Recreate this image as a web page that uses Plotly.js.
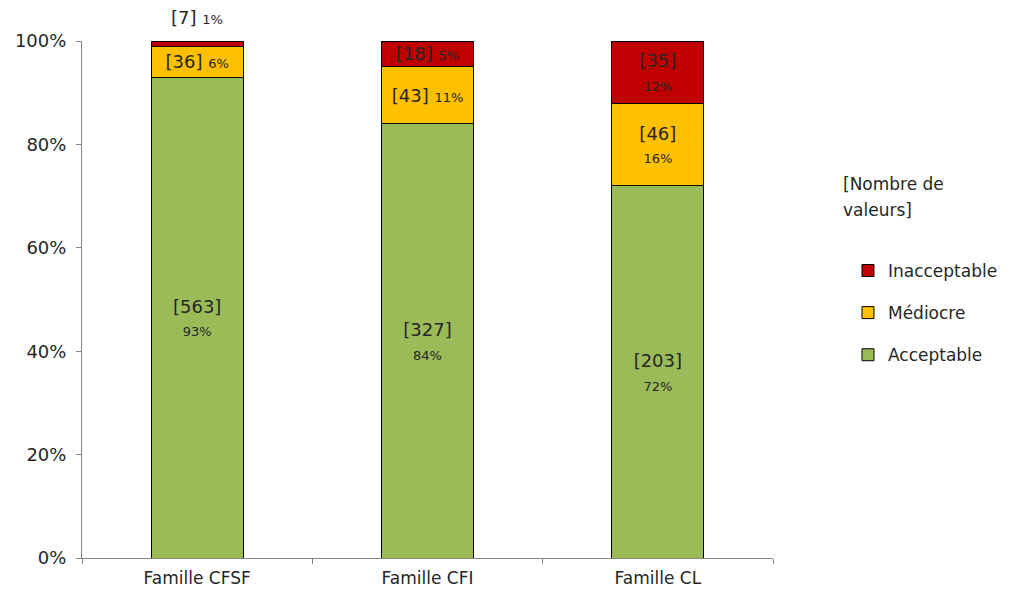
<!DOCTYPE html>
<html>
<head>
<meta charset="utf-8">
<script src="https://cdn.plot.ly/plotly-3.0.1.min.js"></script>
<style>html,body{margin:0;padding:0;background:#fff;}#chart{width:1016px;height:595px;}</style>
</head>
<body>
<div id="chart"></div>
<script>
const categories = ['Famille CFSF', 'Famille CFI', 'Famille CL'];
// number of values (shown in brackets)
const acceptableCount = [563, 327, 203];
const mediocreCount = [36, 43, 46];
const inacceptableCount = [7, 18, 35];
// share of values, % (bar heights)
const acceptablePct = [93, 84, 72];
const mediocrePct = [6, 11, 16];
const inacceptablePct = [1, 5, 12];
const seriesNames = ['Acceptable', 'Médiocre', 'Inacceptable'];
const tickValues = [0, 20, 40, 60, 80, 100];
const tickLabels = ['0%', '20%', '40%', '60%', '80%', '100%'];
const legendTitle = ['[Nombre de', 'valeurs]'];

const FONT = 'DejaVu Sans, Liberation Sans, Arial, sans-serif';
const colors = ['#9BBB59', '#FFC000', '#C00000'];
// label layout per bar: true = count and % on two lines
const twoLines = [[true, true, true], [false, false, true], [false, false, true]];

const counts = [acceptableCount, mediocreCount, inacceptableCount];
const pcts = [acceptablePct, mediocrePct, inacceptablePct];

function label(k, i, sepOverride) {
  const sep = sepOverride || (twoLines[k][i] ? '<br>' : ' ');
  return '[' + counts[k][i] + ']' + sep + '<span style="font-size:13px">' + pcts[k][i] + '%</span>';
}

const annotations = [];
const traces = pcts.map((vals, k) => {
  const textpos = vals.map((v, i) => {
    if (k === 2 && v < 2) {
      // too thin: label placed above the stack
      annotations.push({
        xref: 'x', yref: 'y', x: categories[i],
        y: acceptablePct[i] + mediocrePct[i] + inacceptablePct[i],
        yanchor: 'bottom', yshift: 11, showarrow: false,
        text: label(k, i, ' '),
        font: {family: FONT, size: 18, color: '#262626'}
      });
      return 'none';
    }
    return 'inside';
  });
  return {
    type: 'bar',
    name: seriesNames[k],
    x: categories,
    y: vals,
    text: vals.map((v, i) => label(k, i)),
    texttemplate: '%{text}',
    textposition: textpos,
    insidetextanchor: 'middle',
    constraintext: 'none',
    cliponaxis: false,
    textfont: {family: FONT, size: 18, color: '#262626'},
    marker: {color: colors[k], line: {color: '#000000', width: 1}},
    legendgroup: 'g' + k,
    legendrank: 3 - k,
    hoverinfo: 'skip'
  };
});

annotations.push({
  xref: 'paper', yref: 'paper', x: 1.099, y: (558 - 184) / 517, xanchor: 'left', yanchor: 'middle',
  text: legendTitle[0], showarrow: false, align: 'left',
  font: {family: FONT, size: 17, color: '#262626'}
});
annotations.push({
  xref: 'paper', yref: 'paper', x: 1.099, y: (558 - 210) / 517, xanchor: 'left', yanchor: 'middle',
  text: legendTitle[1], showarrow: false, align: 'left',
  font: {family: FONT, size: 17, color: '#262626'}
});

const layout = {
  width: 1016, height: 595,
  margin: {l: 82, r: 243, t: 41, b: 37},
  paper_bgcolor: '#ffffff', plot_bgcolor: '#ffffff',
  barmode: 'stack',
  bargap: 0.6,
  showlegend: true,
  font: {family: FONT, size: 17, color: '#262626'},
  xaxis: {
    type: 'category',
    showline: true, linecolor: '#868686', linewidth: 1,
    ticks: 'outside', ticklen: 5, tickcolor: '#868686', tickson: 'boundaries',
    showgrid: false, zeroline: false,
    ticklabelstandoff: 5,
    tickfont: {family: FONT, size: 17, color: '#262626'}
  },
  yaxis: {
    range: [0, 100], tickvals: tickValues, ticktext: tickLabels,
    showline: true, linecolor: '#868686', linewidth: 1,
    ticks: 'outside', ticklen: 5, tickcolor: '#868686',
    showgrid: false, zeroline: false,
    ticklabelstandoff: 6,
    tickfont: {family: FONT, size: 18, color: '#262626'}
  },
  legend: {
    x: 1.1085, y: 0.59, xanchor: 'left', yanchor: 'top',
    traceorder: 'grouped', tracegroupgap: 17,
    font: {family: FONT, size: 17, color: '#262626'},
    itemwidth: 30
  },
  annotations: annotations
};

Plotly.newPlot('chart', traces, layout, {displayModeBar: false, staticPlot: true});
</script>
</body>
</html>
